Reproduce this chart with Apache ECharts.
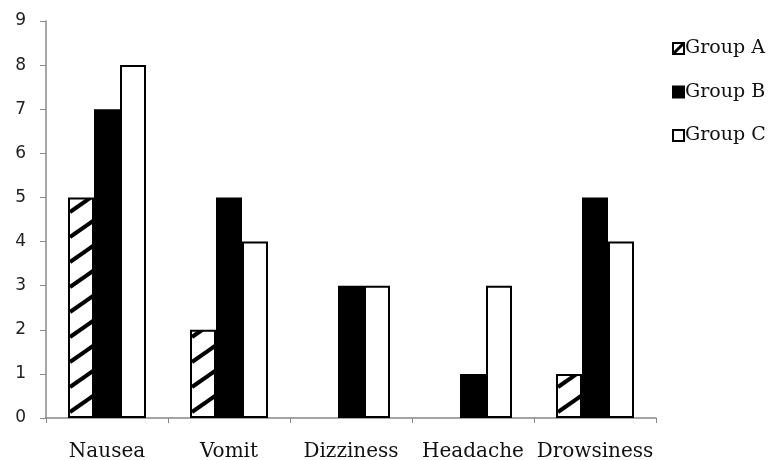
<!DOCTYPE html>
<html>
<head>
<meta charset="utf-8">
<script src="https://cdn.jsdelivr.net/npm/echarts@6/dist/echarts.min.js"></script>
<style>html,body{margin:0;padding:0;background:#fff;}#c{width:769px;height:460px;}</style>
</head>
<body>
<div id="c"></div>
<script>
var categories = ['Nausea', 'Vomit', 'Dizziness', 'Headache', 'Drowsiness'];
var groupA = [5, 2, 0, 0, 1];
var groupB = [7, 5, 3, 1, 5];
var groupC = [8, 4, 3, 3, 4];
var seriesNames = ['Group A', 'Group B', 'Group C'];
var yTicks = [0, 1, 2, 3, 4, 5, 6, 7, 8, 9];

// hatch pattern tile (aligned with category width)
var tile = document.createElement('canvas');
tile.width = 122; tile.height = 25;
var g = tile.getContext('2d');
g.fillStyle = '#fff';
g.fillRect(0, 0, tile.width, tile.height);
g.strokeStyle = '#000';
g.lineWidth = 4;
[-25, 0, 25].forEach(function (d) {
  g.beginPath();
  g.moveTo(70, 12 + d);
  g.lineTo(93, -4 + d);
  g.stroke();
});

// small diagonal tile for the legend icon
var lt = document.createElement('canvas');
lt.width = 11; lt.height = 11;
var lg = lt.getContext('2d');
lg.fillStyle = '#fff';
lg.fillRect(0, 0, 11, 11);
lg.strokeStyle = '#000';
lg.lineWidth = 3;
[-11, 0, 11].forEach(function (d) {
  lg.beginPath();
  lg.moveTo(d, 11);
  lg.lineTo(d + 11, 0);
  lg.stroke();
});

var chart = echarts.init(document.getElementById('c'), null, {renderer: 'canvas'});
var base = {
  type: 'bar',
  barWidth: 26,
  barGap: '0%',
  itemStyle: {borderColor: '#000', borderWidth: 2},
  emphasis: {disabled: true}
};
function mk(name, data, fill) {
  var s = JSON.parse(JSON.stringify(base));
  s.name = name;
  s.data = data.map(function (v) { return v === 0 ? null : v; });
  s.itemStyle.color = fill;
  return s;
}
chart.setOption({
  animation: false,
  backgroundColor: '#fff',
  grid: {left: 46, top: 21, width: 610, height: 397, containLabel: false, outerBoundsMode: 'none'},
  legend: {
    orient: 'vertical',
    left: 672,
    top: 39,
    padding: 0,
    itemWidth: 11,
    itemHeight: 11,
    itemGap: 24.5,
    icon: 'rect',
    textStyle: {fontFamily: 'DejaVu Serif', fontSize: 19, color: '#111', padding: [0, 0, 0, -4]},
    data: [
      {name: seriesNames[0], itemStyle: {color: {image: lt, repeat: 'repeat'}, borderColor: '#000', borderWidth: 2}},
      {name: seriesNames[1]},
      {name: seriesNames[2]}
    ]
  },
  xAxis: {
    type: 'category',
    data: categories,
    axisLine: {lineStyle: {color: '#888', width: 1.5}},
    axisTick: {show: true, length: 5, lineStyle: {color: '#888'}},
    axisLabel: {interval: 0, fontFamily: 'DejaVu Serif', fontSize: 20, color: '#111', margin: 24}
  },
  yAxis: {
    type: 'value',
    min: yTicks[0],
    max: yTicks[yTicks.length - 1],
    interval: 1,
    splitLine: {show: false},
    axisLine: {show: true, lineStyle: {color: '#888', width: 1.5}},
    axisTick: {show: true, length: 6, lineStyle: {color: '#888'}},
    axisLabel: {fontFamily: 'DejaVu Sans', fontSize: 17, color: '#222', margin: 20}
  },
  series: [
    mk(seriesNames[0], groupA, {image: tile, repeat: 'repeat'}),
    mk(seriesNames[1], groupB, '#000'),
    mk(seriesNames[2], groupC, '#fff')
  ]
});
</script>
</body>
</html>
